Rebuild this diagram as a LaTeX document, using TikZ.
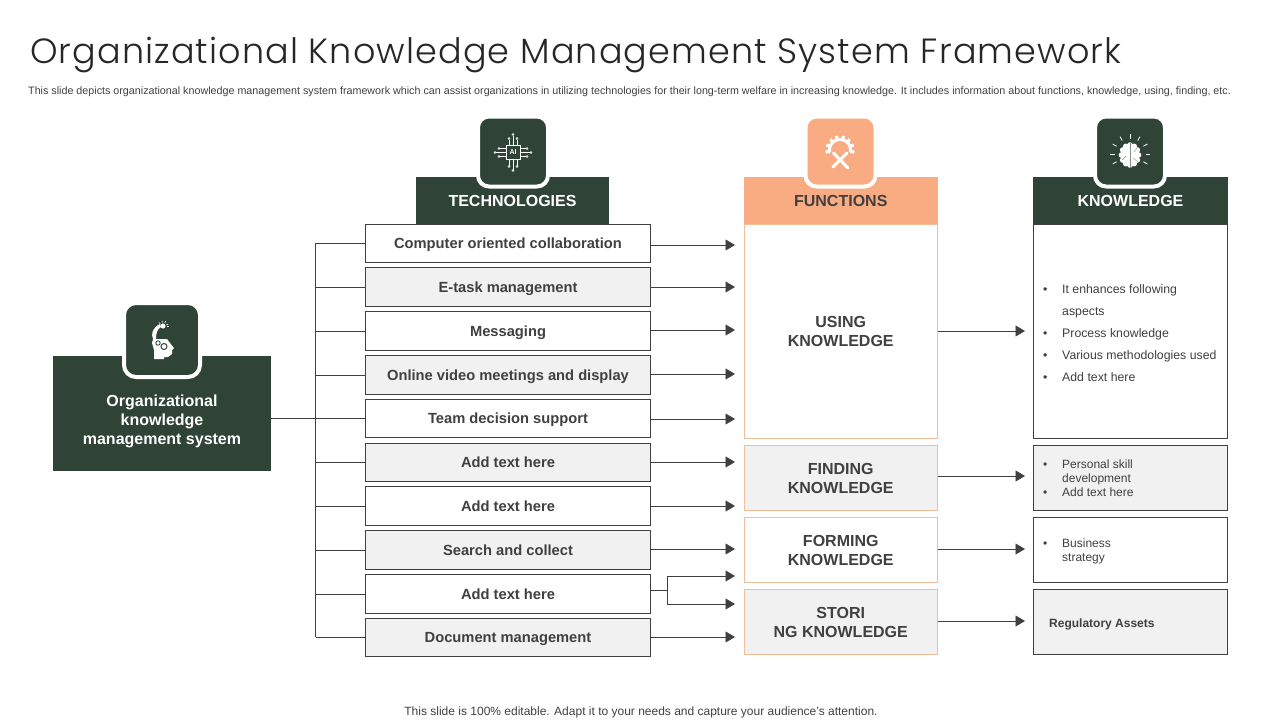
\documentclass[tikz,border=0pt]{standalone}
\usepackage{fontspec}
\setmainfont{Liberation Sans}
\newfontfamily\titlefont[UprightFont=* Light]{Poppins}
\usetikzlibrary{arrows.meta}
\definecolor{darkgreen}{HTML}{2F4336}
\definecolor{peach}{HTML}{F9AB82}
\definecolor{peachline}{HTML}{F2BE9A}
\definecolor{rowgray}{HTML}{F1F1F1}
\definecolor{edgegray}{HTML}{404040}
\tikzset{
  rowbox/.style={draw=edgegray,line width=0.9pt,minimum width=285.5pt,minimum height=38.5pt,inner sep=0pt,text height=13pt,text depth=3pt,font=\fontsize{14.7}{18}\selectfont\bfseries,text=edgegray},
  headbox/.style={minimum height=47pt,inner sep=0pt,font=\fontsize{16}{19}\selectfont\bfseries},
  funbox/.style={draw=peachline,line width=0.9pt,minimum width=193.5pt,inner sep=0pt,align=center,font=\fontsize{16}{19}\selectfont\bfseries,text=edgegray},
  knowbox/.style={draw=edgegray,line width=0.9pt,minimum width=194.5pt,inner sep=0pt},
  listtext/.style={anchor=north west,inner sep=0pt,align=left,text=edgegray},
  tile/.style={rounded corners=11pt,minimum width=70pt,minimum height=70pt,inner sep=0pt,draw=white,line width=4pt},
  link/.style={draw=edgegray,line width=0.9pt},
  arrowline/.style={link,-{Triangle[length=9.5pt,width=11pt]}},
  pin/.style={white,line width=0.6pt}
}
\begin{document}
\begin{tikzpicture}[x=1pt,y=-1pt]
\useasboundingbox (0,0) rectangle (1280,720);

% title and notes
\node[anchor=west,inner sep=0pt,text=black!85] (title) at (30,55) {\titlefont\fontsize{35}{40}\selectfont\addfontfeature{LetterSpace=3.2}Organizational Knowledge Management System Framework};
\node[anchor=west,inner sep=0pt,text=edgegray] (note) at (28,92) {\fontsize{10.73}{12}\selectfont This slide depicts organizational knowledge management system framework which can assist organizations in utilizing technologies for their long-term welfare in increasing knowledge. It includes information about functions, knowledge, using, finding, etc.};
\node[inner sep=0pt,text=edgegray] (foot) at (641,712) {\fontsize{12}{14}\selectfont This slide is 100\% editable. Adapt it to your needs and capture your audience's attention.};

% free ends
\coordinate (trunk) at (315.5,418.5);
\coordinate (gate) at (735,419);
\coordinate (forktop) at (667,576);
\coordinate (forkbot) at (667,604);
\coordinate (forkmid) at (667,590);
\coordinate (reach) at (1025,419);

% headers
\node[headbox,fill=darkgreen,text=white,minimum width=193pt] (techhead) at (512.5,200.5) {TECHNOLOGIES};
\node[headbox,fill=peach,text=edgegray,minimum width=193.5pt] (funhead) at (840.75,200.5) {FUNCTIONS};
\node[headbox,fill=darkgreen,text=white,minimum width=194.5pt] (knowhead) at (1130.5,200.5) {KNOWLEDGE};

% left block
\node[fill=darkgreen,minimum width=218pt,minimum height=115pt,inner sep=0pt] (org) at (162,413.5) {};
\node[align=center,text=white,inner sep=0pt,font=\fontsize{16}{19}\selectfont\bfseries] (orgtext) at (162,421) {Organizational\\knowledge\\management system};

% technology rows
\foreach \i/\cy/\ay/\shade/\lab in {
  1/243.25/245/white/Computer oriented collaboration,
  2/287/287/rowgray/E-task management,
  3/331/330/white/Messaging,
  4/375/374/rowgray/Online video meetings and display,
  5/418.5/419/white/Team decision support,
  6/462.5/462/rowgray/Add  text here,
  7/506/506/white/Add  text here,
  8/550/549/rowgray/Search and collect,
  10/637.25/637/rowgray/Document management}{
  \node[rowbox,fill=\shade] (tech\i) at (508,\cy) {\lab};
  \draw[link] (tech\i.west) -- (tech\i.west -| trunk);
  \draw[arrowline] (tech\i.east |- 0,\ay) -- (gate |- 0,\ay);
}
\node[rowbox,fill=white] (tech9) at (508,594) {Add  text here};
\draw[link] (tech9.west) -- (tech9.west -| trunk);

% fork of row nine
\draw[link] (tech9.east |- forkmid) -- (forkmid);
\draw[link] (forktop) -- (forkbot);
\draw[arrowline] (forktop) -- (forktop -| gate);
\draw[arrowline] (forkbot) -- (forkbot -| gate);

% trunk
\draw[link] (tech1.west -| trunk) -- (tech10.west -| trunk);
\draw[link] (org.east |- trunk) -- (tech5.west |- trunk);

% functions
\node[funbox,fill=white,minimum height=214.5pt] (using) at (840.75,331.25) {USING\\KNOWLEDGE};
\node[funbox,fill=rowgray,minimum height=65.5pt] (finding) at (840.75,478) {FINDING\\KNOWLEDGE};
\node[funbox,fill=white,minimum height=65.5pt] (forming) at (840.75,550) {FORMING\\KNOWLEDGE};
\node[funbox,fill=rowgray,minimum height=65.5pt] (storing) at (840.75,622) {STORI\\NG KNOWLEDGE};

% knowledge
\node[knowbox,fill=white,minimum height=214.5pt] (useknow) at (1130.5,331.25) {};
\node[knowbox,fill=rowgray,minimum height=65.5pt] (findknow) at (1130.5,478) {};
\node[knowbox,fill=white,minimum height=65.5pt] (formknow) at (1130.5,550) {};
\node[knowbox,fill=rowgray,minimum height=65.5pt] (storeknow) at (1130.5,622) {};

\node[listtext,font=\fontsize{12.3}{22}\selectfont] (uselist) at (1043,284) {\makebox[19pt][l]{\textbullet}It enhances following\\\hspace*{19pt}aspects\\\makebox[19pt][l]{\textbullet}Process knowledge\\\makebox[19pt][l]{\textbullet}Various methodologies used\\\makebox[19pt][l]{\textbullet}Add text here};
\node[listtext,font=\fontsize{12}{14}\selectfont] (findlist) at (1043,459.5) {\makebox[19pt][l]{\textbullet}Personal skill\\\hspace*{19pt}development\\\makebox[19pt][l]{\textbullet}Add text here};
\node[listtext,font=\fontsize{12}{14}\selectfont] (formlist) at (1043,538.5) {\makebox[19pt][l]{\textbullet}Business\\\hspace*{19pt}strategy};
\node[anchor=west,inner sep=0pt,text=edgegray,font=\fontsize{12}{14}\selectfont\bfseries] (storelist) at (1049,624) {Regulatory Assets};

% function arrows
\draw[arrowline] (using.east |- 0,331) -- (reach |- 0,331);
\draw[arrowline] (finding.east |- 0,476) -- (reach |- 0,476);
\draw[arrowline] (forming.east |- 0,549) -- (reach |- 0,549);
\draw[arrowline] (storing.east |- 0,621) -- (reach |- 0,621);

% icon tiles
\node[tile,fill=darkgreen] (techtile) at (513,151.5) {};
\node[tile,fill=peach] (funtile) at (840.5,151.5) {};
\node[tile,fill=darkgreen] (knowtile) at (1130,151.5) {};
\node[tile,fill=darkgreen,minimum width=76pt,minimum height=74pt,rounded corners=12pt] (orgtile) at (162,340) {};

% chip icon
\node[draw=white,line width=0.9pt,minimum width=14pt,minimum height=14pt,inner sep=0pt,text=white,font=\fontsize{7}{8}\selectfont\bfseries] (chip) at (513,152.5) {AI};
\foreach \d/\r in {-4/13,0/17,4/13}{
  \draw[pin] (513+\d,152.5-7) -- (513+\d,152.5-\r);
  \draw[pin] (513+\d,152.5+7) -- (513+\d,152.5+\r);
  \draw[pin] (513-7,152.5+\d) -- (513-\r,152.5+\d);
  \draw[pin] (513+7,152.5+\d) -- (513+\r,152.5+\d);
  \draw[pin] (513+\d,152.5-\r-1) circle(1);
  \draw[pin] (513+\d,152.5+\r+1) circle(1);
  \draw[pin] (513-\r-1,152.5+\d) circle(1);
  \draw[pin] (513+\r+1,152.5+\d) circle(1);
}

% gear and tools icon
\draw[white,line width=3pt] plot[domain=-10:190,samples=24] ({840+10.5*cos(\x)},{150-10.5*sin(\x)});
\foreach \a in {-8,20,48,76,104,132,160,188}{
  \draw[white,line width=3.2pt] ({840+10*cos(\a)},{150-10*sin(\a)}) -- ({840+14.5*cos(\a)},{150-14.5*sin(\a)});
}
\draw[white,line width=3pt,line cap=round] (833.5,153) -- (848,168);
\draw[white,line width=3pt,line cap=round] (847,153) -- (833,167);

% brain icon
\fill[white] (1130,155) ellipse(9.5 and 11);
\foreach \a in {0,30,...,330}{
  \fill[white] ({1130+8.5*cos(\a)},{155-10*sin(\a)}) circle(2.8);
}
\draw[darkgreen!60,line width=0.7pt] (1130,142) -- (1130,168);
\draw[darkgreen!60,line width=0.4pt] (1122,160) -- (1126,156) (1137,148) -- (1134,152) (1138,162) -- (1133,158);
\foreach \a in {0,30,60,90,120,150,180,210,330}{
  \draw[white,line width=0.8pt] ({1130+15.5*cos(\a)},{154-15.5*sin(\a)}) -- ({1130+20*cos(\a)},{154-20*sin(\a)});
}

% head icon
\fill[white] (153,339) -- (167,339) -- (170,343) -- (174,348) -- (172,350) -- (172,354) -- (168,357) -- (164,357) -- (164,359) -- (154,359) -- (154,350) -- (152,343) -- cycle;
\fill[white] (153,339) .. controls (151,334) and (152,328) .. (160,324) -- (161,327) .. controls (157,329) and (156,334) .. (156,339) -- cycle;
\fill[white] (163,326) circle(2.6);
\foreach \a in {20,60,100,140,0}{
  \draw[white,line width=0.6pt] ({163+3.5*cos(\a)},{326-3.5*sin(\a)}) -- ({163+5.5*cos(\a)},{326-5.5*sin(\a)});
}
\draw[darkgreen,line width=0.9pt] (158,343) circle(2.2);
\draw[darkgreen,line width=1pt] (164,346.5) circle(3);
\end{tikzpicture}
\end{document}
